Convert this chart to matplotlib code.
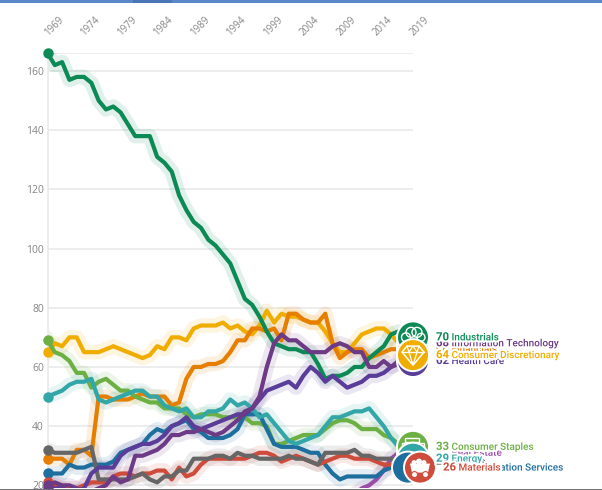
import matplotlib
matplotlib.use("Agg")
import matplotlib.pyplot as plt
import matplotlib.patheffects as pe
from matplotlib.patches import Circle, Polygon, Rectangle
from matplotlib.transforms import ScaledTranslation

plt.rcParams['font.family'] = ['Open Sans', 'DejaVu Sans']

years = list(range(1969, 2020))
x_ticks = list(range(1969, 2020, 5))
y_ticks = [20, 40, 60, 80, 100, 120, 140, 160, 166]
y_labels = ["20", "40", "60", "80", "100", "120", "140", "160", ""]

industrials = [166, 162, 163, 157, 158, 158, 156, 150, 147, 148, 146, 142, 138, 138, 138, 131, 129, 126, 118, 113,
               109, 107, 103, 101, 98, 95, 89, 83, 81, 77, 72, 68, 67, 66, 66, 65, 65, 61, 56, 57, 57, 58, 60, 60,
               63, 65, 67, 71, 72, 71, 70]
discretionary = [65, 68, 67, 70, 70, 65, 65, 65, 66, 67, 66, 65, 64, 63, 64, 67, 66, 70, 70, 69, 73, 74,
                 74, 74, 75, 73, 74, 72, 71, 74, 79, 75, 78, 77, 77, 76, 75, 75, 72, 68, 65, 65, 68, 71, 72, 73,
                 73, 71, 68, 66, 64]
financials = [29, 29, 29, 27, 32, 32, 30, 50, 50, 49, 49, 49, 50, 51, 50, 50, 50, 47, 48, 56, 60, 60,
              61, 61, 62, 65, 69, 69, 73, 73, 72, 73, 69, 78, 78, 76, 75, 75, 78, 68, 63, 65, 66, 66, 63, 64,
              65, 66, 66, 66, 66]
info_tech = [20, 21, 20, 20, 19, 18, 18, 19, 20, 23, 21, 22, 30, 30, 31, 32, 34, 37, 37, 38, 38, 39, 38, 37, 38,
             40, 42, 45, 46, 50, 60, 68, 71, 69, 69, 67, 65, 65, 65, 67, 68, 67, 65, 65, 60, 60, 62, 60, 62, 65, 68]
health_care = [19, 19, 19, 18, 18, 19, 24, 26, 26, 26, 30, 32, 33, 34, 34, 35, 37, 40, 41, 43, 40, 39, 40, 41, 42,
               43, 44, 44, 46, 49, 52, 53, 54, 55, 53, 57, 60, 58, 55, 57, 55, 53, 54, 55, 57, 57, 58, 60, 61, 62, 62]
staples = [69, 65, 64, 62, 58, 58, 53, 55, 56, 54, 52, 52, 50, 49, 48, 48, 46, 46, 46, 44, 43, 44, 44, 44, 43, 43,
           43, 43, 41, 41, 40, 34, 34, 35, 36, 37, 37, 37, 39, 41, 42, 42, 41, 39, 39, 39, 37, 36, 34, 34, 33]
energy = [50, 51, 52, 54, 55, 55, 56, 49, 48, 49, 50, 51, 52, 52, 50, 50, 47, 46, 45, 46, 43, 43, 45, 45, 46, 49,
          47, 48, 46, 43, 44, 41, 38, 35, 34, 35, 36, 37, 40, 43, 43, 44, 45, 45, 46, 43, 40, 36, 33, 31, 29]
communication = [24, 24, 24, 27, 26, 26, 27, 27, 27, 28, 31, 32, 33, 34, 37, 39, 38, 40, 41, 42, 39, 38, 36, 36, 36,
                 37, 39, 44, 44, 44, 39, 34, 33, 33, 33, 32, 31, 31, 27, 24, 22, 23, 23, 23, 23, 23, 25, 26, 26, 26, 26]
materials = [21, 20, 19, 19, 19, 20, 21, 21, 21, 23, 24, 24, 23, 24, 24, 25, 25, 22, 26, 23, 24, 27, 29, 29, 29, 29,
             29, 29, 30, 31, 31, 30, 28, 29, 30, 29, 28, 27, 28, 29, 30, 30, 29, 29, 29, 28, 27, 27, 26, 26, 26]
utilities = [32, 31, 31, 31, 31, 32, 33, 22, 22, 22, 22, 22, 23, 24, 22, 21, 23, 23, 25, 25, 29, 29, 29, 30, 30, 29,
             31, 30, 30, 29, 29, 29, 29, 30, 29, 29, 28, 27, 31, 31, 31, 31, 32, 30, 30, 29, 29, 29, 28, 28, 28]
real_estate_years = [2009, 2010, 2011, 2012, 2013, 2014, 2015, 2016, 2017, 2018, 2019]
real_estate = [15, 16, 17, 19, 20, 22, 25, 29, 31, 31, 31]

# name, years, values, colour - drawn back to front
lines = [
    ("Real Estate", real_estate_years, real_estate, "#9b4da8"),
    ("Consumer Discretionary", years, discretionary, "#f0ad00"),
    ("Financials", years, financials, "#e67e00"),
    ("Consumer Staples", years, staples, "#6cb044"),
    ("Communication Services", years, communication, "#1e6e9e"),
    ("Energy", years, energy, "#33a6a8"),
    ("Materials", years, materials, "#cf4b3c"),
    ("Utilities", years, utilities, "#666666"),
    ("Industrials", years, industrials, "#0b8a55"),
    ("Health Care", years, health_care, "#5a3d99"),
    ("Information Technology", years, info_tech, "#6d3a85"),
]
colors = {l[0]: l[3] for l in lines}
last = {l[0]: l[2][-1] for l in lines}

fig = plt.figure(figsize=(6.02, 4.9), dpi=100)
ax = fig.add_axes([47.5 / 602, (490 - 488) / 490, (413 - 47.5) / 602, (488 - 53) / 490])
ax.set_xlim(1969, 2019)
ax.set_ylim(19.1, 166.08)

for z, (name, xs, ys, c) in enumerate(lines):
    ax.plot(xs, ys, color=c, lw=10.5, alpha=0.12, solid_joinstyle="round", zorder=2)
    ax.plot(xs, ys, color=c, lw=3, solid_joinstyle="round", zorder=3 + z * 0.01)
    if xs is years:
        ax.plot(xs[0], ys[0], "o", color=c, ms=6.5, clip_on=False, zorder=3 + z * 0.01)

ax.set_yticks(y_ticks)
ax.set_yticklabels(y_labels)
ax.set_xticks(x_ticks)
ax.xaxis.tick_top()
ax.set_xticklabels([str(y) for y in x_ticks], rotation=45, ha="center", va="bottom")
ax.grid(axis="y", color="#e8e8e8", lw=1.1, zorder=1)
ax.grid(axis="x", visible=False)
ax.set_axisbelow(True)
ax.tick_params(axis="y", length=0, pad=2.5, labelsize=7.5, labelcolor="#858585")
ax.tick_params(axis="x", length=0, pad=11, labelsize=7, labelcolor="#858585")
shift = ScaledTranslation(6.5 / 100, 0, fig.dpi_scale_trans)
for lab in ax.get_xticklabels():
    lab.set_transform(lab.get_transform() + shift)
for side in ["top", "right", "bottom"]:
    ax.spines[side].set_visible(False)
ax.spines["left"].set_color("#e8e8e8")
ax.spines["left"].set_linewidth(1.1)

# pixel-space layer for the end badges, their labels and the window edges
over = fig.add_axes([0, 0, 1, 1], facecolor="none")
over.set_xlim(0, 602)
over.set_ylim(490, 0)
over.axis("off")


def to_px(year, value):
    px, py = ax.transData.transform((year, value))
    return px, 490 - py


def badge(name, dx=0, z=5):
    cx, cy = to_px(2019, last[name])
    cx += dx
    over.add_patch(Circle((cx, cy), 17, fc="white", ec="none", zorder=z))
    over.add_patch(Circle((cx, cy), 15, fc=colors[name], ec="none", zorder=z))
    return cx, cy


def label(name, z, dx=0, num_dx=0):
    _, cy = to_px(2019, last[name])
    halo = [pe.withStroke(linewidth=3, foreground="white")]
    over.text(436 + dx + num_dx, cy, str(last[name]), color=colors[name], family="Roboto", fontsize=8.2,
              fontweight="bold", va="center", ha="left", path_effects=halo, zorder=z)
    over.text(451.5 + dx, cy, name, color=colors[name], family="Roboto", fontsize=7.2, fontweight=500,
              va="center", ha="left", path_effects=halo, zorder=z)


badge("Health Care", z=5)
badge("Financials", z=5.1)
badge("Information Technology", z=5.2)
cx, cy = badge("Industrials", z=5.3)
for ox, oy, r in [(-7, 0, 4.5), (-2, -5, 5), (4, -5, 5), (8, 0, 4)]:
    over.add_patch(Circle((cx + ox, cy + oy), r, fc="none", ec="white", lw=1, zorder=5.35))
cx, cy = badge("Consumer Discretionary", z=5.4)
over.add_patch(Polygon([(cx - 11, cy - 3), (cx - 6, cy - 9), (cx + 6, cy - 9), (cx + 11, cy - 3), (cx, cy + 10)],
                       fc="none", ec="white", lw=1.1, zorder=5.45))
over.plot([cx - 11, cx + 11], [cy - 3, cy - 3], color="white", lw=0.9, zorder=5.45)
over.plot([cx - 4, cx, cx + 4], [cy - 3, cy + 10, cy - 3], color="white", lw=0.9, zorder=5.45)
over.plot([cx - 6, cx - 4, cx, cx + 4, cx + 6], [cy - 9, cy - 3, cy - 9, cy - 3, cy - 9],
          color="white", lw=0.9, zorder=5.45)

badge("Real Estate", z=5)
badge("Utilities", z=5.05)
cx, cy = badge("Consumer Staples", z=5.1)
over.add_patch(Rectangle((cx - 8, cy - 9), 14, 4, fc="none", ec="white", lw=1, zorder=5.15))
over.add_patch(Rectangle((cx - 11, cy - 4), 22, 4, fc="none", ec="white", lw=1, zorder=5.15))
badge("Energy", z=5.2)
badge("Communication Services", dx=-5, z=5.3)
cx, cy = badge("Materials", dx=7, z=5.4)
over.add_patch(Polygon([(cx - 10, cy - 4), (cx + 10, cy - 4), (cx + 8, cy + 5), (cx - 8, cy + 5)],
                       fc="white", ec="none", zorder=5.45))
for ox, oy, r in [(-6, -5, 2.5), (-1, -6, 3), (4, -5, 2.5)]:
    over.add_patch(Circle((cx + ox, cy + oy), r, fc="white", ec="none", zorder=5.45))
for ox in [-5.5, 5.5]:
    over.add_patch(Circle((cx + ox, cy + 7), 3, fc="white", ec=colors["Materials"], lw=0.8, zorder=5.46))

label("Health Care", 6)
label("Financials", 6.1)
label("Information Technology", 6.2)
label("Industrials", 6.3)
label("Consumer Discretionary", 6.4)
label("Real Estate", 6)
label("Utilities", 6.05)
label("Communication Services", 6.1, num_dx=7)
label("Consumer Staples", 6.2)
label("Energy", 6.3)
label("Materials", 6.4, dx=7)

over.add_patch(Rectangle((0, 0), 602, 3.5, fc="#5b86c8", ec="none", zorder=8))
over.add_patch(Rectangle((133, 0), 39, 3.5, fc="#4a74b5", ec="none", zorder=8.1))
over.add_patch(Rectangle((0, 488.5), 602, 1.5, fc="#707070", ec="none", zorder=8))

fig.savefig("out.png", dpi=100, facecolor="white")
